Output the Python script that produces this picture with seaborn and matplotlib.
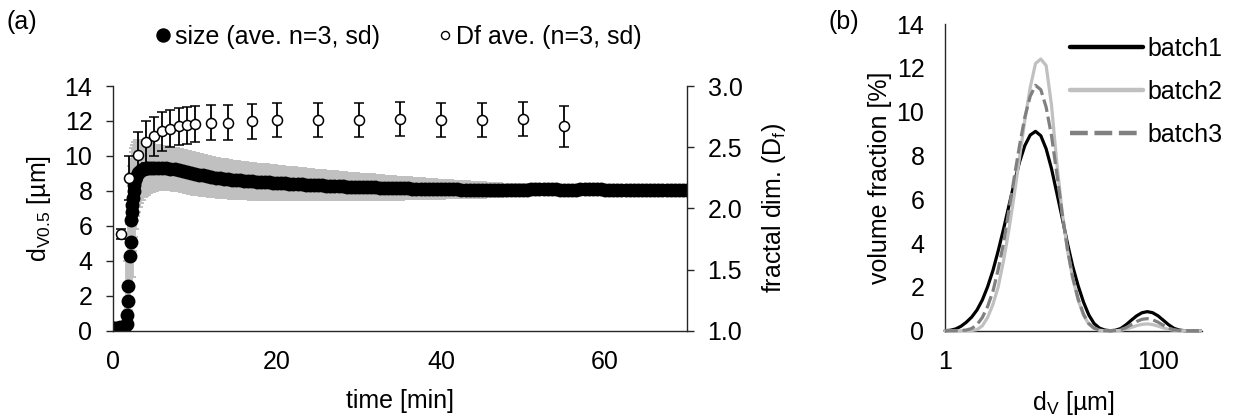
import matplotlib
matplotlib.use("Agg")
import matplotlib.pyplot as plt
from matplotlib.lines import Line2D
from matplotlib.ticker import FixedLocator, NullLocator, FormatStrFormatter
import pandas as pd
import seaborn as sns

# ---------------- (a) floc growth over time ----------------
time_min = [
    0.0, 0.3, 0.6, 0.9, 1.2, 1.5, 1.7, 1.75, 1.8, 1.87,
    2.05, 2.15, 2.25, 2.3, 2.35, 2.4, 2.5, 2.6, 2.7, 2.8,
    3.0, 3.2, 3.4, 3.6, 3.8, 4.0, 4.3, 4.6,
    5.0, 5.5, 6.0, 6.5, 7.0, 7.5, 8.0, 8.5, 9.0, 9.5, 10.0,
    10.5, 11.0, 11.5, 12.0, 12.5, 13.0, 13.5, 14.0, 14.5, 15.0,
    15.5, 16.0, 16.5, 17.0, 17.5, 18.0, 18.5, 19.0, 19.5, 20.0,
    20.5, 21.0, 21.5, 22.0, 22.5, 23.0, 23.5, 24.0, 24.5, 25.0,
    25.5, 26.0, 26.5, 27.0, 27.5, 28.0, 28.5, 29.0, 29.5, 30.0,
    30.5, 31.0, 31.5, 32.0, 32.5, 33.0, 33.5, 34.0, 34.5, 35.0,
    35.5, 36.0, 36.5, 37.0, 37.5, 38.0, 38.5, 39.0, 39.5, 40.0,
    40.5, 41.0, 41.5, 42.0, 42.5, 43.0, 43.5, 44.0, 44.5, 45.0,
    45.5, 46.0, 46.5, 47.0, 47.5, 48.0, 48.5, 49.0, 49.5, 50.0,
    50.5, 51.0, 51.5, 52.0, 52.5, 53.0, 53.5, 54.0, 54.5, 55.0,
    55.5, 56.0, 56.5, 57.0, 57.5, 58.0, 58.5, 59.0, 59.5, 60.0,
    60.5, 61.0, 61.5, 62.0, 62.5, 63.0, 63.5, 64.0, 64.5, 65.0,
    65.5, 66.0, 66.5, 67.0, 67.5, 68.0, 68.5, 69.0, 69.5, 70.0,
]
size_mean = [
    0.15, 0.15, 0.15, 0.20, 0.20, 0.25, 0.40, 0.90, 1.72, 2.57,
    4.30, 5.10, 6.36, 6.80, 7.20, 7.60, 8.00, 8.35, 8.60, 8.80,
    9.00, 9.10, 9.20, 9.25, 9.27, 9.28, 9.30, 9.30,
    9.30, 9.32, 9.33, 9.31, 9.27, 9.24, 9.19, 9.14, 9.09, 9.03, 8.97,
    8.93, 8.88, 8.84, 8.80, 8.76, 8.73, 8.70, 8.67, 8.64, 8.62,
    8.60, 8.58, 8.56, 8.54, 8.53, 8.51, 8.50, 8.48, 8.47, 8.46,
    8.44, 8.43, 8.41, 8.40, 8.38, 8.37, 8.36, 8.34, 8.33, 8.32,
    8.31, 8.30, 8.29, 8.28, 8.27, 8.26, 8.25, 8.24, 8.24, 8.23,
    8.23, 8.22, 8.21, 8.20, 8.19, 8.18, 8.18, 8.17, 8.16, 8.15,
    8.15, 8.14, 8.13, 8.13, 8.12, 8.12, 8.11, 8.11, 8.10, 8.10,
    8.09, 8.09, 8.08, 8.08, 8.07, 8.07, 8.06, 8.06, 8.06, 8.05,
    8.05, 8.05, 8.04, 8.04, 8.04, 8.05, 8.05, 8.06, 8.06, 8.07,
    8.07, 8.08, 8.08, 8.08, 8.09, 8.09, 8.08, 8.08, 8.07, 8.07,
    8.06, 8.06, 8.07, 8.08, 8.09, 8.10, 8.10, 8.09, 8.08, 8.07,
    8.07, 8.06, 8.06, 8.06, 8.07, 8.07, 8.07, 8.06, 8.06, 8.06,
    8.06, 8.06, 8.07, 8.07, 8.07, 8.06, 8.06, 8.06, 8.06, 8.06,
]
size_sd = [
    0.05, 0.05, 0.05, 0.05, 0.06, 0.08, 0.15, 0.60, 1.00, 1.40,
    1.80, 2.00, 2.20, 2.25, 2.25, 2.25, 2.20, 2.10, 2.05, 2.00,
    1.90, 1.80, 1.70, 1.62, 1.55, 1.50, 1.42, 1.36,
    1.30, 1.28, 1.26, 1.25, 1.24, 1.23, 1.22, 1.21, 1.20, 1.19, 1.18,
    1.17, 1.16, 1.15, 1.14, 1.13, 1.12, 1.11, 1.10, 1.09, 1.08,
    1.07, 1.06, 1.05, 1.04, 1.03, 1.02, 1.01, 1.00, 0.99, 0.98,
    0.97, 0.96, 0.95, 0.94, 0.93, 0.91, 0.90, 0.89, 0.88, 0.87,
    0.86, 0.85, 0.84, 0.83, 0.82, 0.80, 0.79, 0.78, 0.77, 0.76,
    0.75, 0.74, 0.73, 0.72, 0.71, 0.69, 0.68, 0.67, 0.66, 0.65,
    0.64, 0.63, 0.62, 0.61, 0.59, 0.58, 0.57, 0.56, 0.55, 0.54,
    0.52, 0.51, 0.50, 0.49, 0.48, 0.47, 0.46, 0.45, 0.44, 0.43,
    0.42, 0.41, 0.40, 0.39, 0.38, 0.37, 0.36, 0.35, 0.34, 0.33,
    0.32, 0.31, 0.30, 0.29, 0.28, 0.27, 0.27, 0.26, 0.25, 0.24,
    0.24, 0.23, 0.22, 0.21, 0.21, 0.20, 0.19, 0.19, 0.18, 0.17,
    0.17, 0.16, 0.16, 0.15, 0.15, 0.14, 0.14, 0.13, 0.13, 0.12,
    0.12, 0.12, 0.11, 0.11, 0.11, 0.10, 0.10, 0.10, 0.10, 0.10,
]

df_time = [1, 2, 3, 4, 5, 6, 7, 8, 9, 10, 12, 14, 17, 20, 25, 30, 35, 40, 45, 50, 55]
df_mean = [1.79, 2.25, 2.44, 2.54, 2.59, 2.63, 2.65, 2.67, 2.68, 2.69, 2.70,
           2.70, 2.71, 2.72, 2.72, 2.72, 2.73, 2.72, 2.72, 2.73, 2.67]
df_sd = [0.04, 0.18, 0.18, 0.17, 0.16, 0.16, 0.15, 0.15, 0.15, 0.145, 0.145,
         0.145, 0.14, 0.14, 0.14, 0.14, 0.14, 0.14, 0.14, 0.14, 0.165]

# ---------------- (b) particle size distributions ----------------
size_classes = [
    1.00, 1.12, 1.26, 1.41, 1.58, 1.78, 2.00, 2.24, 2.51, 2.82,
    3.16, 3.55, 3.98, 4.47, 5.01, 5.62, 6.31, 7.08, 7.94, 8.91,
    10.0, 11.2, 12.6, 14.1, 15.8, 17.8, 20.0, 22.4, 25.1, 28.2,
    31.6, 35.5, 39.8, 44.7, 50.1, 56.2, 63.1, 70.8, 79.4, 89.1,
    100, 112, 126, 141, 158, 178, 200, 224, 251,
]
batch1 = [
    0.00, 0.02, 0.08, 0.20, 0.38, 0.62, 0.95, 1.40, 2.00, 2.75,
    3.65, 4.65, 5.70, 6.75, 7.70, 8.45, 8.93, 9.10, 8.90, 8.30,
    7.40, 6.30, 5.15, 4.00, 2.95, 2.05, 1.30, 0.72, 0.33, 0.12,
    0.03, 0.00, 0.02, 0.10, 0.27, 0.48, 0.68, 0.82, 0.87, 0.82,
    0.68, 0.48, 0.27, 0.11, 0.03, 0.00, 0.00, 0.00, 0.00,
]
batch2 = [
    0.00, 0.00, 0.00, 0.00, 0.00, 0.01, 0.05, 0.22, 0.60, 1.20,
    2.00, 3.20, 4.60, 6.20, 7.90, 9.60, 11.10, 12.20, 12.40, 12.10,
    10.30, 7.70, 5.40, 3.70, 2.40, 1.40, 0.70, 0.30, 0.10, 0.02,
    0.00, 0.00, 0.00, 0.02, 0.07, 0.15, 0.23, 0.29, 0.31, 0.28,
    0.21, 0.13, 0.06, 0.02, 0.00, 0.00, 0.00, 0.00, 0.00,
]
batch3 = [
    0.00, 0.00, 0.00, 0.01, 0.03, 0.10, 0.28, 0.60, 1.10, 1.80,
    2.80, 4.00, 5.50, 7.00, 8.45, 9.75, 10.70, 11.20, 11.00, 10.20,
    8.90, 7.20, 5.35, 3.75, 2.45, 1.45, 0.75, 0.33, 0.12, 0.03,
    0.00, 0.00, 0.01, 0.05, 0.14, 0.28, 0.42, 0.52, 0.55, 0.50,
    0.39, 0.25, 0.12, 0.04, 0.01, 0.00, 0.00, 0.00, 0.00,
]
batch_names = ["batch1", "batch2", "batch3"]
batch_colors = {"batch1": "#000000", "batch2": "#c0c0c0", "batch3": "#808080"}
batch_dashes = {"batch1": "", "batch2": "", "batch3": (4, 1.5)}

# ---------------- style ----------------
FS = 18
sns.set_theme(style="white")
plt.rcParams["font.family"] = ["Liberation Sans", "DejaVu Sans"]
plt.rcParams.update({
    "font.size": FS,
    "axes.labelsize": FS,
    "xtick.labelsize": FS,
    "ytick.labelsize": FS,
    "legend.fontsize": FS,
    "axes.linewidth": 1.0,
    "axes.edgecolor": "#262626",
    "xtick.direction": "out",
    "ytick.direction": "out",
    "xtick.major.size": 4.8,
    "ytick.major.size": 4.8,
    "xtick.major.width": 1.0,
    "ytick.major.width": 1.0,
    "xtick.color": "#262626",
    "ytick.color": "#262626",
    "xtick.labelcolor": "black",
    "ytick.labelcolor": "black",
    "xtick.major.pad": 9,
    "ytick.major.pad": 10,
    "text.color": "black",
    "axes.labelcolor": "black",
})

W, H = 1234, 419
fig = plt.figure(figsize=(W / 100, H / 100), dpi=100)

def px_axes(x0, y_top, x1, y_bot):
    return fig.add_axes([x0 / W, 1 - y_bot / H, (x1 - x0) / W, (y_bot - y_top) / H])

# ---------- panel (a) ----------
ax = px_axes(113, 86, 687, 330.7)
ax.errorbar(time_min, size_mean, yerr=size_sd, fmt="none", ecolor="#c0c0c0",
            elinewidth=4.2, capsize=3.6, capthick=1.4, zorder=1)
sns.scatterplot(x=time_min, y=size_mean, color="black", s=100, linewidth=0,
                ax=ax, zorder=2, legend=False)
ax.set_xlim(0, 70)
ax.set_ylim(0, 14)
ax.set_xticks([0, 20, 40, 60])
ax.set_yticks(range(0, 15, 2))
ax.spines["top"].set_visible(False)
ax.spines["right"].set_visible(False)
ax.set_xlabel("time [min]", labelpad=11)
ax.set_ylabel(r"d$_\mathregular{V0.5}$ [µm]", labelpad=8)

ax2 = ax.twinx()
ax2.errorbar(df_time, df_mean, yerr=df_sd, fmt="o", ms=7.2, mfc="white",
             mec="black", mew=1.1, ecolor="black", elinewidth=1.3,
             capsize=3.6, capthick=1.3, zorder=3)
ax2.set_ylim(1.0, 3.0)
ax2.set_yticks([1.0, 1.5, 2.0, 2.5, 3.0])
ax2.yaxis.set_major_formatter(FormatStrFormatter("%.1f"))
for side in ("top", "left", "bottom"):
    ax2.spines[side].set_visible(False)
ax2.set_ylabel(r"fractal dim. (D$_\mathregular{f}$)", labelpad=13)

handles = [
    Line2D([], [], ls="none", marker="o", ms=9.4, mfc="black", mec="black"),
    Line2D([], [], ls="none", marker="o", ms=5.8, mfc="white", mec="black", mew=1.0),
]
fig.legend(handles, ["size (ave. n=3, sd)", "Df ave. (n=3, sd)"], ncol=2,
           loc="center left", bbox_to_anchor=(156 / W, 1 - 37 / H),
           frameon=False, borderpad=0, borderaxespad=0, handlelength=0.6,
           handletextpad=0.15, columnspacing=2.3)
fig.text(6 / W, 1 - 22 / H, "(a)", ha="left", va="center")

# ---------- panel (b) ----------
axb = px_axes(945, 24, 1202, 330.7)
for name, vals in zip(batch_names, [batch1, batch2, batch3]):
    frame = pd.DataFrame({"size": size_classes, "frac": vals})
    sns.lineplot(data=frame, x="size", y="frac", color=batch_colors[name],
                 linewidth=2.3, dashes=False, ax=axb, label=name,
                 zorder=3, clip_on=False)
    line = axb.get_lines()[-1]
    if batch_dashes[name]:
        line.set_dashes(batch_dashes[name])
axb.set_xscale("log")
axb.set_xlim(1, 259)
axb.set_ylim(0, 14)
axb.xaxis.set_major_locator(FixedLocator([1, 100]))
axb.xaxis.set_minor_locator(NullLocator())
axb.xaxis.set_major_formatter(FormatStrFormatter("%g"))
axb.set_yticks(range(0, 15, 2))
axb.spines["top"].set_visible(False)
axb.spines["right"].set_visible(False)
axb.set_xlabel(r"d$_\mathregular{V}$ [µm]", labelpad=11)
axb.set_ylabel("volume fraction [%]", labelpad=3)
leg = axb.legend(loc="upper left", bbox_to_anchor=(1070 / W, 1 - 37 / H),
                 bbox_transform=fig.transFigure, frameon=False, borderpad=0,
                 borderaxespad=0, handlelength=2.9, handletextpad=0.2,
                 labelspacing=0.75)
for ln in leg.get_lines():
    ln.set_linewidth(3.2)
fig.text(828 / W, 1 - 22 / H, "(b)", ha="left", va="center")

fig.savefig("out.png", dpi=100)
